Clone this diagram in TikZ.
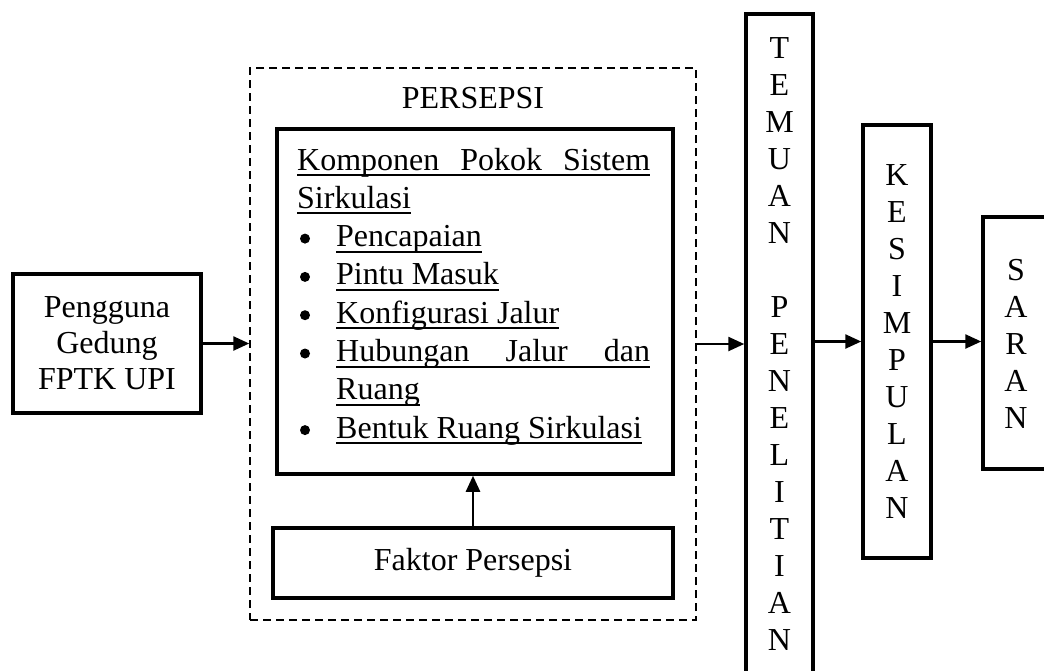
\documentclass[tikz,border=0pt]{standalone}
\usepackage{fontspec}
\setmainfont{Liberation Serif}
\usetikzlibrary{arrows.meta}
\newsavebox\ulsave
\newcommand{\ulbox}[1]{\leavevmode\sbox\ulsave{#1}\rlap{\rule[-6pt]{\wd\ulsave}{2pt}}\usebox\ulsave}
\begin{document}
\begin{tikzpicture}[x=1pt,y=-1pt,
  font=\fontsize{32}{37}\selectfont,
  box/.style={draw, line width=3.5pt, inner sep=0pt},
  arr/.style={line width=2.5pt, -{Triangle[length=16pt,width=14pt]}},
  txt/.style={inner sep=0pt, anchor=base west},
  bul/.style={circle, fill, inner sep=0pt, minimum size=10pt},
  vtext/.style={inner sep=0pt, anchor=north, align=center}]
\clip (0,0) rectangle (1044,670);
\fill[white] (0,0) rectangle (1044,670);

% left box
\node[box, minimum width=188pt, minimum height=139pt, align=center, font=\fontsize{32}{36}\selectfont] (user) at (107,343.5) {Pengguna\\Gedung\\FPTK UPI};

% dashed group
\node[draw, line width=1.5pt, dash pattern=on 8pt off 5pt, minimum width=446pt, minimum height=552pt, inner sep=0pt] (persepsi) at (473,344) {};
\node[inner sep=0pt, anchor=base] (ptitle) at (473,108) {PERSEPSI};

% inner box
\node[box, minimum width=396pt, minimum height=345pt] (komp) at (475,301.5) {};
\node[txt] (l1) at (297,170) {\ulbox{\makebox[353pt][s]{Komponen Pokok Sistem}}};
\node[txt] (l2) at (297,208.3) {\ulbox{Sirkulasi}};
\node[bul] (b1) at (305,238.6) {};
\node[txt] (l3) at (336,246.6) {\ulbox{Pencapaian}};
\node[bul] (b2) at (305,276.9) {};
\node[txt] (l4) at (336,284.9) {\ulbox{Pintu Masuk}};
\node[bul] (b3) at (305,315.2) {};
\node[txt] (l5) at (336,323.2) {\ulbox{Konfigurasi Jalur}};
\node[bul] (b4) at (305,353.5) {};
\node[txt] (l6) at (336,361.5) {\ulbox{\makebox[314pt][s]{Hubungan Jalur dan}}};
\node[txt] (l7) at (336,399.8) {\ulbox{Ruang}};
\node[bul] (b5) at (305,430.1) {};
\node[txt] (l8) at (336,438.1) {\ulbox{Bentuk Ruang Sirkulasi}};

% faktor
\node[box, minimum width=400pt, minimum height=70pt] (faktor) at (473,563) {Faktor Persepsi};

% temuan penelitian
\node[box, minimum width=67pt, minimum height=680pt, anchor=north] (temuan) at (779.5,12) {};
\node[vtext] (temuant) at (779.5,37) {T\\E\\M\\U\\A\\N\\[37pt]P\\E\\N\\E\\L\\I\\T\\I\\A\\N};

% kesimpulan
\node[box, minimum width=68pt, minimum height=433pt] (kesim) at (897,341.5) {};
\node[vtext] (kesimt) at (897,164.5) {K\\E\\S\\I\\M\\P\\U\\L\\A\\N};

% saran
\node[box, minimum width=67pt, minimum height=252pt] (saran) at (1016.5,343) {};
\node[vtext] (sarant) at (1016,259.5) {S\\A\\R\\A\\N};

% arrows
\draw[arr] (user.east) -- (user.east -| persepsi.west);
\draw[arr] (faktor.north) -- (faktor.north |- komp.south);
\draw[arr] (persepsi.east) -- (persepsi.east -| temuan.west);
\draw[arr] (kesim.west -| temuan.east) -- (kesim.west);
\draw[arr] (kesim.east) -- (kesim.east -| saran.west);
\end{tikzpicture}
\end{document}
